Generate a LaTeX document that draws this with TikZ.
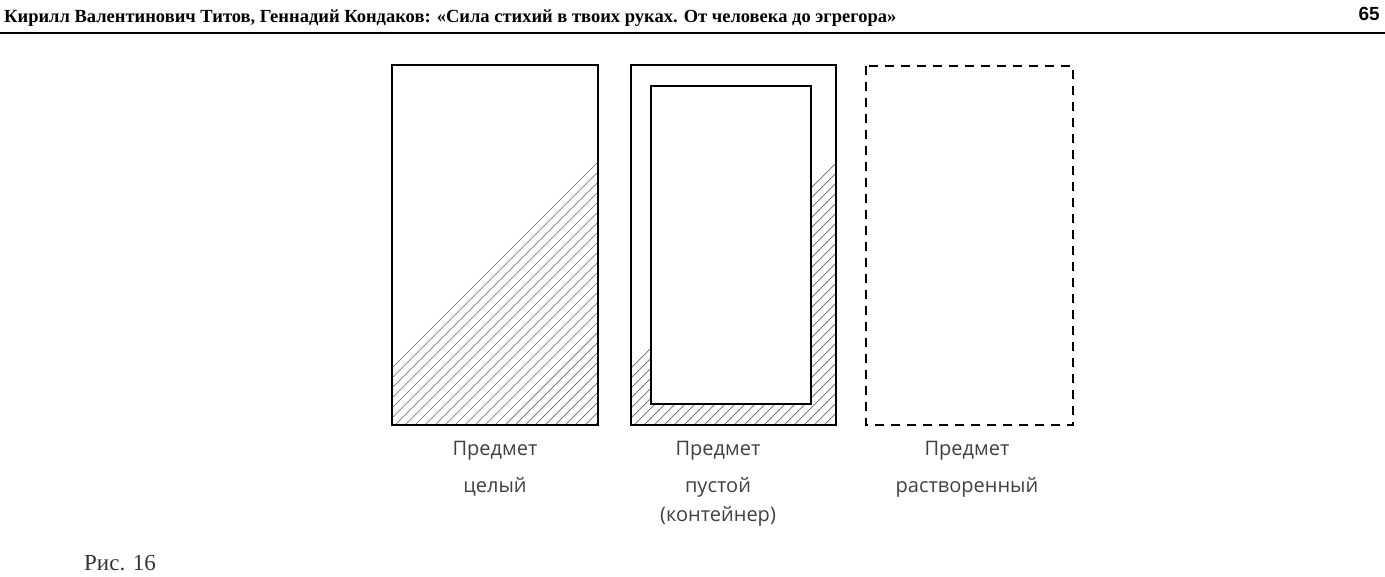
\documentclass[tikz,border=0pt]{standalone}
\usepackage{fontspec}
\setmainfont{Liberation Serif}
\newfontfamily\lblfont{Open Sans}
\newfontfamily\numfont{Liberation Sans}
\tikzset{
  box/.style={line width=2.6pt,draw=black},
  dbox/.style={line width=2.4pt,draw=black,dash pattern=on 9pt off 7pt},
  hatch/.style={line width=0.7pt,draw=black!60},
  lbl/.style={font=\lblfont\fontsize{20}{37}\selectfont,text=black!75,align=center,anchor=north},
}
\begin{document}
\begin{tikzpicture}[x=1pt,y=-1pt]
\useasboundingbox (0,0) rectangle (1385,577);
\node[anchor=west,font=\bfseries\fontsize{18.5}{20}\selectfont,inner sep=0] (hdr) at (4,18) {Кирилл Валентинович Титов, Геннадий Кондаков: «Сила стихий в твоих руках. От человека до эгрегора»};
\node[anchor=east,font=\numfont\bfseries\fontsize{19}{20}\selectfont,inner sep=0] (pg) at (1380,14) {65};
\draw[line width=1.5pt] (0,33) -- (1385,33);
% rect 1 hatched
\begin{scope}
\clip (392,65) rectangle (598,425);
\foreach \i in {0,...,60} {\draw[hatch] (330+\i*10,430) -- (330+\i*10+370,60);}
\end{scope}
\draw[box] (392,65) rectangle (598,425);
% rect 2
\begin{scope}
\clip (631,65) rectangle (836,425);
\foreach \i in {0,...,60} {\draw[hatch] (569+\i*10,430) -- (569+\i*10+370,60);}
\end{scope}
\draw[box] (631,65) rectangle (836,425);
\draw[box,fill=white] (651,86) rectangle (811,404);
% rect 3
\draw[dbox] (866,66) rectangle (1073,425);
\node[lbl] (l1) at (495,438) {Предмет\\целый};
\node[lbl] (l2) at (718,438) {Предмет\\пустой\\[-8pt](контейнер)};
\node[lbl] (l3) at (967,438) {Предмет\\растворенный};
\node[anchor=west,font=\fontsize{23}{24}\selectfont,inner sep=0,text=black!80] (fig) at (84,563) {Рис. 16};
\end{tikzpicture}
\end{document}
